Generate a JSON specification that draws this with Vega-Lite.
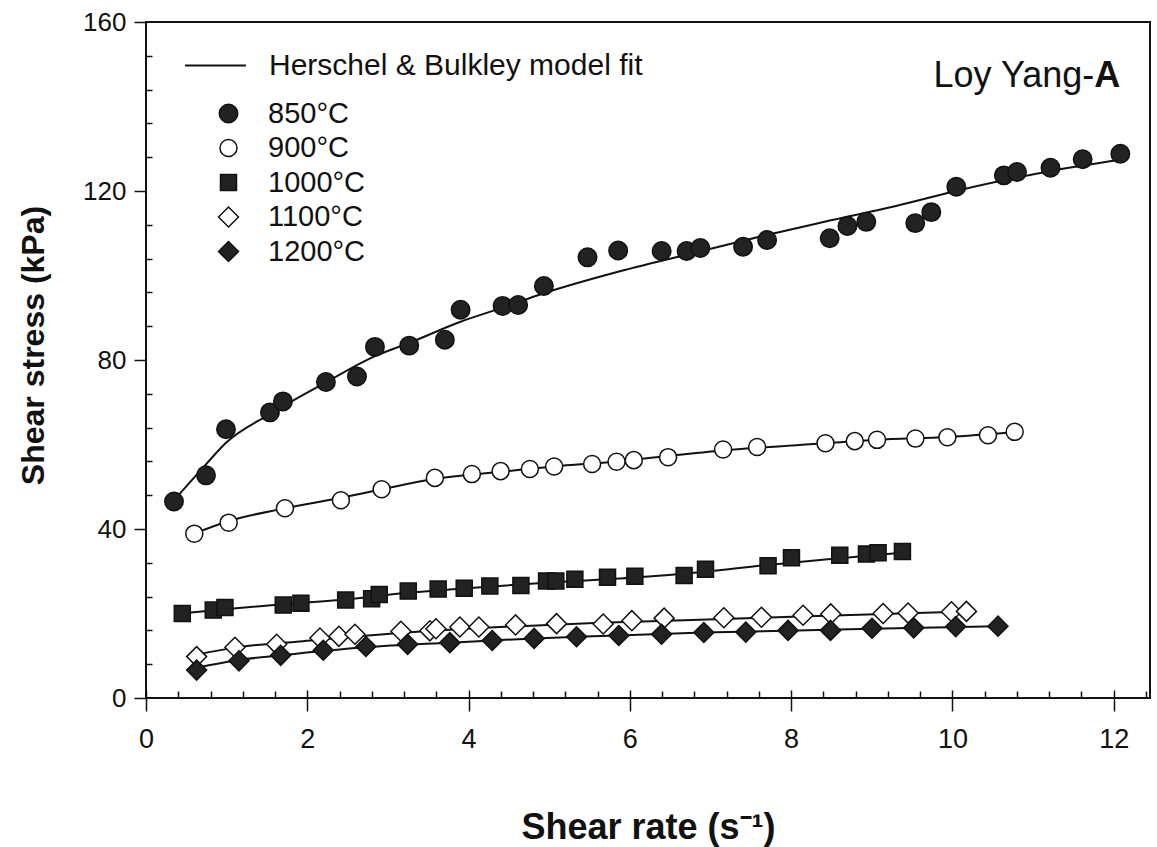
{
"$schema":"https://vega.github.io/schema/vega-lite/v6.json",
"width":1004,"height":676,
"autosize":"none",
"padding":{"left":146,"top":22,"right":7,"bottom":149},
"background":"white",
"config":{"view":{"stroke":"#111","strokeWidth":2},"font":"Liberation Sans","axis":{"grid":false,"domain":false,"tickColor":"#111","labelColor":"#111","titleColor":"#111","labelFlush":false,"labelOverlap":false}},
"datasets":{
"pts":[
{"t":"850°C","x":0.347,"y":46.5},{"t":"850°C","x":0.744,"y":52.7},{"t":"850°C","x":0.992,"y":63.6},{"t":"850°C","x":1.537,"y":67.6},{"t":"850°C","x":1.698,"y":70.2},{"t":"850°C","x":2.231,"y":74.8},{"t":"850°C","x":2.616,"y":76.1},{"t":"850°C","x":2.839,"y":83.1},{"t":"850°C","x":3.264,"y":83.4},{"t":"850°C","x":3.706,"y":84.8},{"t":"850°C","x":3.901,"y":91.9},{"t":"850°C","x":4.422,"y":92.8},{"t":"850°C","x":4.615,"y":93.0},{"t":"850°C","x":4.934,"y":97.5},{"t":"850°C","x":5.475,"y":104.3},{"t":"850°C","x":5.855,"y":105.9},{"t":"850°C","x":6.394,"y":105.8},{"t":"850°C","x":6.704,"y":105.8},{"t":"850°C","x":6.874,"y":106.5},{"t":"850°C","x":7.404,"y":106.8},{"t":"850°C","x":7.702,"y":108.4},{"t":"850°C","x":8.478,"y":108.8},{"t":"850°C","x":8.698,"y":111.7},{"t":"850°C","x":8.932,"y":112.7},{"t":"850°C","x":9.539,"y":112.4},{"t":"850°C","x":9.738,"y":115.0},{"t":"850°C","x":10.048,"y":121.0},{"t":"850°C","x":10.638,"y":123.7},{"t":"850°C","x":10.801,"y":124.5},{"t":"850°C","x":11.216,"y":125.5},{"t":"850°C","x":11.615,"y":127.5},{"t":"850°C","x":12.082,"y":128.8},
{"t":"900°C","x":0.599,"y":38.9},{"t":"900°C","x":1.025,"y":41.5},{"t":"900°C","x":1.723,"y":44.9},{"t":"900°C","x":2.417,"y":46.8},{"t":"900°C","x":2.922,"y":49.4},{"t":"900°C","x":3.582,"y":52.1},{"t":"900°C","x":4.041,"y":53.0},{"t":"900°C","x":4.397,"y":53.7},{"t":"900°C","x":4.76,"y":54.2},{"t":"900°C","x":5.061,"y":54.8},{"t":"900°C","x":5.532,"y":55.4},{"t":"900°C","x":5.835,"y":55.9},{"t":"900°C","x":6.049,"y":56.3},{"t":"900°C","x":6.474,"y":57.0},{"t":"900°C","x":7.156,"y":58.8},{"t":"900°C","x":7.578,"y":59.4},{"t":"900°C","x":8.426,"y":60.3},{"t":"900°C","x":8.789,"y":60.8},{"t":"900°C","x":9.065,"y":61.1},{"t":"900°C","x":9.541,"y":61.4},{"t":"900°C","x":9.938,"y":61.7},{"t":"900°C","x":10.441,"y":62.2},{"t":"900°C","x":10.772,"y":63.0},
{"t":"1000°C","x":0.45,"y":20.0},{"t":"1000°C","x":0.834,"y":20.8},{"t":"1000°C","x":0.979,"y":21.4},{"t":"1000°C","x":1.702,"y":22.0},{"t":"1000°C","x":1.921,"y":22.4},{"t":"1000°C","x":2.476,"y":23.2},{"t":"1000°C","x":2.798,"y":23.5},{"t":"1000°C","x":2.892,"y":24.5},{"t":"1000°C","x":3.252,"y":25.3},{"t":"1000°C","x":3.623,"y":25.8},{"t":"1000°C","x":3.946,"y":26.0},{"t":"1000°C","x":4.264,"y":26.5},{"t":"1000°C","x":4.649,"y":26.6},{"t":"1000°C","x":4.967,"y":27.7},{"t":"1000°C","x":5.082,"y":27.7},{"t":"1000°C","x":5.318,"y":28.1},{"t":"1000°C","x":5.723,"y":28.6},{"t":"1000°C","x":6.062,"y":28.8},{"t":"1000°C","x":6.673,"y":29.0},{"t":"1000°C","x":6.938,"y":30.5},{"t":"1000°C","x":7.714,"y":31.3},{"t":"1000°C","x":8.004,"y":33.2},{"t":"1000°C","x":8.603,"y":33.8},{"t":"1000°C","x":8.934,"y":34.1},{"t":"1000°C","x":9.078,"y":34.4},{"t":"1000°C","x":9.38,"y":34.7},
{"t":"1100°C","x":0.628,"y":9.8},{"t":"1100°C","x":1.103,"y":12.0},{"t":"1100°C","x":1.62,"y":12.7},{"t":"1100°C","x":2.157,"y":14.2},{"t":"1100°C","x":2.392,"y":14.6},{"t":"1100°C","x":2.591,"y":15.1},{"t":"1100°C","x":3.161,"y":15.8},{"t":"1100°C","x":3.52,"y":15.9},{"t":"1100°C","x":3.595,"y":16.4},{"t":"1100°C","x":3.892,"y":16.8},{"t":"1100°C","x":4.128,"y":16.8},{"t":"1100°C","x":4.583,"y":17.3},{"t":"1100°C","x":5.091,"y":17.6},{"t":"1100°C","x":5.669,"y":17.5},{"t":"1100°C","x":6.025,"y":18.3},{"t":"1100°C","x":6.425,"y":18.9},{"t":"1100°C","x":7.165,"y":19.0},{"t":"1100°C","x":7.632,"y":19.1},{"t":"1100°C","x":8.148,"y":19.6},{"t":"1100°C","x":8.491,"y":19.9},{"t":"1100°C","x":9.14,"y":20.0},{"t":"1100°C","x":9.45,"y":20.1},{"t":"1100°C","x":9.988,"y":20.4},{"t":"1100°C","x":10.174,"y":20.5},
{"t":"1200°C","x":0.628,"y":6.6},{"t":"1200°C","x":1.153,"y":8.8},{"t":"1200°C","x":1.67,"y":10.1},{"t":"1200°C","x":2.198,"y":11.3},{"t":"1200°C","x":2.727,"y":12.2},{"t":"1200°C","x":3.244,"y":12.7},{"t":"1200°C","x":3.768,"y":13.1},{"t":"1200°C","x":4.293,"y":13.6},{"t":"1200°C","x":4.813,"y":14.1},{"t":"1200°C","x":5.339,"y":14.5},{"t":"1200°C","x":5.863,"y":14.8},{"t":"1200°C","x":6.393,"y":15.1},{"t":"1200°C","x":6.917,"y":15.5},{"t":"1200°C","x":7.438,"y":15.6},{"t":"1200°C","x":7.962,"y":16.0},{"t":"1200°C","x":8.488,"y":16.0},{"t":"1200°C","x":9.003,"y":16.5},{"t":"1200°C","x":9.52,"y":16.6},{"t":"1200°C","x":10.041,"y":16.9},{"t":"1200°C","x":10.565,"y":17.0}
],
"fits":[
{"t":"850°C","m":"Herschel & Bulkley model fit","x":0.347,"y":46.8},{"t":"850°C","m":"Herschel & Bulkley model fit","x":0.744,"y":55.3},{"t":"850°C","m":"Herschel & Bulkley model fit","x":0.992,"y":60.4},{"t":"850°C","m":"Herschel & Bulkley model fit","x":1.537,"y":67.2},{"t":"850°C","m":"Herschel & Bulkley model fit","x":2.231,"y":74.7},{"t":"850°C","m":"Herschel & Bulkley model fit","x":2.839,"y":80.9},{"t":"850°C","m":"Herschel & Bulkley model fit","x":3.273,"y":84.1},{"t":"850°C","m":"Herschel & Bulkley model fit","x":3.892,"y":89.0},{"t":"850°C","m":"Herschel & Bulkley model fit","x":4.425,"y":92.4},{"t":"850°C","m":"Herschel & Bulkley model fit","x":4.934,"y":95.8},{"t":"850°C","m":"Herschel & Bulkley model fit","x":5.876,"y":101.0},{"t":"850°C","m":"Herschel & Bulkley model fit","x":6.867,"y":105.7},{"t":"850°C","m":"Herschel & Bulkley model fit","x":7.698,"y":109.6},{"t":"850°C","m":"Herschel & Bulkley model fit","x":8.479,"y":113.0},{"t":"850°C","m":"Herschel & Bulkley model fit","x":9.347,"y":116.7},{"t":"850°C","m":"Herschel & Bulkley model fit","x":10.041,"y":120.0},{"t":"850°C","m":"Herschel & Bulkley model fit","x":11.206,"y":124.7},{"t":"850°C","m":"Herschel & Bulkley model fit","x":12.074,"y":127.4},
{"t":"900°C","m":"Herschel & Bulkley model fit","x":0.595,"y":38.9},{"t":"900°C","m":"Herschel & Bulkley model fit","x":1.029,"y":41.9},{"t":"900°C","m":"Herschel & Bulkley model fit","x":1.723,"y":44.9},{"t":"900°C","m":"Herschel & Bulkley model fit","x":2.417,"y":47.4},{"t":"900°C","m":"Herschel & Bulkley model fit","x":2.925,"y":49.4},{"t":"900°C","m":"Herschel & Bulkley model fit","x":3.582,"y":51.9},{"t":"900°C","m":"Herschel & Bulkley model fit","x":4.388,"y":53.5},{"t":"900°C","m":"Herschel & Bulkley model fit","x":5.058,"y":54.8},{"t":"900°C","m":"Herschel & Bulkley model fit","x":5.839,"y":56.0},{"t":"900°C","m":"Herschel & Bulkley model fit","x":6.471,"y":57.3},{"t":"900°C","m":"Herschel & Bulkley model fit","x":7.153,"y":58.6},{"t":"900°C","m":"Herschel & Bulkley model fit","x":8.429,"y":60.3},{"t":"900°C","m":"Herschel & Bulkley model fit","x":9.062,"y":61.1},{"t":"900°C","m":"Herschel & Bulkley model fit","x":9.942,"y":61.8},{"t":"900°C","m":"Herschel & Bulkley model fit","x":10.785,"y":62.9},
{"t":"1000°C","m":"Herschel & Bulkley model fit","x":0.446,"y":20.0},{"t":"1000°C","m":"Herschel & Bulkley model fit","x":0.979,"y":21.0},{"t":"1000°C","m":"Herschel & Bulkley model fit","x":1.698,"y":22.2},{"t":"1000°C","m":"Herschel & Bulkley model fit","x":2.467,"y":23.3},{"t":"1000°C","m":"Herschel & Bulkley model fit","x":3.248,"y":24.9},{"t":"1000°C","m":"Herschel & Bulkley model fit","x":3.942,"y":25.9},{"t":"1000°C","m":"Herschel & Bulkley model fit","x":4.958,"y":27.3},{"t":"1000°C","m":"Herschel & Bulkley model fit","x":6.062,"y":28.5},{"t":"1000°C","m":"Herschel & Bulkley model fit","x":6.93,"y":29.9},{"t":"1000°C","m":"Herschel & Bulkley model fit","x":7.711,"y":31.5},{"t":"1000°C","m":"Herschel & Bulkley model fit","x":8.603,"y":33.1},{"t":"1000°C","m":"Herschel & Bulkley model fit","x":9.372,"y":34.4},
{"t":"1100°C","m":"Herschel & Bulkley model fit","x":0.632,"y":10.3},{"t":"1100°C","m":"Herschel & Bulkley model fit","x":1.165,"y":12.1},{"t":"1100°C","m":"Herschel & Bulkley model fit","x":1.909,"y":13.4},{"t":"1100°C","m":"Herschel & Bulkley model fit","x":3.149,"y":15.4},{"t":"1100°C","m":"Herschel & Bulkley model fit","x":4.388,"y":16.8},{"t":"1100°C","m":"Herschel & Bulkley model fit","x":5.628,"y":17.8},{"t":"1100°C","m":"Herschel & Bulkley model fit","x":6.868,"y":18.5},{"t":"1100°C","m":"Herschel & Bulkley model fit","x":8.107,"y":19.3},{"t":"1100°C","m":"Herschel & Bulkley model fit","x":9.347,"y":20.0},{"t":"1100°C","m":"Herschel & Bulkley model fit","x":10.177,"y":20.5},
{"t":"1200°C","m":"Herschel & Bulkley model fit","x":0.632,"y":7.2},{"t":"1200°C","m":"Herschel & Bulkley model fit","x":1.153,"y":9.0},{"t":"1200°C","m":"Herschel & Bulkley model fit","x":1.673,"y":10.1},{"t":"1200°C","m":"Herschel & Bulkley model fit","x":2.727,"y":12.0},{"t":"1200°C","m":"Herschel & Bulkley model fit","x":3.768,"y":13.1},{"t":"1200°C","m":"Herschel & Bulkley model fit","x":4.81,"y":14.1},{"t":"1200°C","m":"Herschel & Bulkley model fit","x":5.863,"y":14.8},{"t":"1200°C","m":"Herschel & Bulkley model fit","x":6.917,"y":15.5},{"t":"1200°C","m":"Herschel & Bulkley model fit","x":7.958,"y":15.9},{"t":"1200°C","m":"Herschel & Bulkley model fit","x":8.999,"y":16.4},{"t":"1200°C","m":"Herschel & Bulkley model fit","x":10.562,"y":17.0}
],
"labels":[{"x":11.76,"y":144.6,"a":"Loy Yang-","b":"A"}]
},
"resolve":{"axis":{"x":"independent","y":"independent"}},
"layer":[
{"data":{"name":"fits"},"mark":{"type":"line","strokeWidth":2,"interpolate":"monotone"},
"encoding":{
"x":{"field":"x","type":"quantitative","scale":{"domain":[0,12.45],"nice":false,"zero":false},"axis":{"values":[0,2,4,6,8,10,12],"orient":"bottom","offset":-8,"tickSize":21,"tickWidth":1.5,"labelFontSize":27,"labelPadding":15,"title":"Shear rate (s⁻¹)","titleFont":"Liberation Sans","titleFontWeight":"bold","titleFontSize":36,"titleX":502,"titleY":148,"titleBaseline":"alphabetic","titleAlign":"center"}},
"y":{"field":"y","type":"quantitative","scale":{"domain":[0,160],"nice":false},"axis":{"values":[0,40,80,120,160],"orient":"left","tickSize":12,"tickWidth":1.5,"labelFontSize":26,"labelPadding":8,"title":"Shear stress (kPa)","titleFont":"Liberation Sans","titleFontWeight":"bold","titleFontSize":32,"titleX":-96,"titleY":323,"titleAngle":270,"titleBaseline":"bottom","titleAlign":"center"}},
"detail":{"field":"t"},
"stroke":{"field":"m","type":"nominal","scale":{"range":["#111"]},"legend":{"orient":"none","legendX":38,"legendY":12,"title":null,"symbolType":"stroke","symbolSize":3700,"symbolStrokeWidth":2,"labelFontSize":30,"labelOffset":22,"padding":0,"labelColor":"#111","labelLimit":0}}
}},
{"data":{"name":"pts"},"mark":{"type":"point","stroke":"#111","strokeWidth":1.5,"opacity":1,"fillOpacity":1},
"encoding":{
"x":{"field":"x","type":"quantitative","axis":null},
"y":{"field":"y","type":"quantitative","axis":null},
"shape":{"field":"t","type":"nominal","scale":{"domain":["850°C","900°C","1000°C","1100°C","1200°C"],"range":["circle","circle","square","diamond","diamond"]},"legend":{"orient":"none","legendX":68,"legendY":77,"title":null,"labelFontSize":29,"labelOffset":25,"rowPadding":4.5,"padding":0,"symbolStrokeColor":"#111","symbolStrokeWidth":1.5,"symbolOpacity":1,"labelColor":"#111","encode":{"symbols":{"update":{"stroke":{"value":"#111"},"strokeWidth":{"value":1.5}}}}}},
"fill":{"field":"t","type":"nominal","scale":{"domain":["850°C","900°C","1000°C","1100°C","1200°C"],"range":["#222","white","#222","white","#222"]},"legend":{"orient":"none","legendX":68,"legendY":77,"title":null,"labelFontSize":29,"labelOffset":25,"rowPadding":4.5,"padding":0,"symbolStrokeColor":"#111","symbolStrokeWidth":1.5,"symbolOpacity":1,"labelColor":"#111","encode":{"symbols":{"update":{"stroke":{"value":"#111"},"strokeWidth":{"value":1.5}}}}}},
"size":{"field":"t","type":"nominal","scale":{"type":"ordinal","domain":["850°C","900°C","1000°C","1100°C","1200°C"],"range":[340,290,256,400,400]},"legend":{"orient":"none","legendX":68,"legendY":77,"title":null,"labelFontSize":29,"labelOffset":25,"rowPadding":4.5,"padding":0,"symbolStrokeColor":"#111","symbolStrokeWidth":1.5,"symbolOpacity":1,"labelColor":"#111","encode":{"symbols":{"update":{"stroke":{"value":"#111"},"strokeWidth":{"value":1.5}}}}}}
}},
{"data":{"name":"labels"},"mark":{"type":"text","align":"right","baseline":"alphabetic","fontSize":36,"font":"Liberation Sans","color":"#111"},
"encoding":{"x":{"field":"x","type":"quantitative","axis":null},"y":{"field":"y","type":"quantitative","axis":null},"text":{"field":"a"}}},
{"data":{"name":"labels"},"mark":{"type":"text","align":"left","baseline":"alphabetic","fontSize":36,"fontWeight":"bold","font":"Liberation Sans","color":"#111"},
"encoding":{"x":{"field":"x","type":"quantitative","axis":null},"y":{"field":"y","type":"quantitative","axis":null},"text":{"field":"b"}}},
{"data":{"name":"fits"},"mark":{"type":"point","opacity":0},
"encoding":{
"x":{"field":"x","type":"quantitative","axis":{"values":[0.4,0.8,1.2,1.6,2.4,2.8,3.2,3.6,4.4,4.8,5.2,5.6,6.4,6.8,7.2,7.6,8.4,8.8,9.2,9.6,10.4,10.8,11.2,11.6,12.4],"orient":"bottom","offset":-7,"tickSize":7,"tickWidth":1.5,"labels":false,"title":null}},
"y":{"field":"y","type":"quantitative","axis":{"values":[8,16,24,32,48,56,64,72,88,96,104,112,128,136,144,152],"orient":"left","offset":-6,"tickSize":6,"tickWidth":1.5,"labels":false,"title":null}}
}}
]
}
